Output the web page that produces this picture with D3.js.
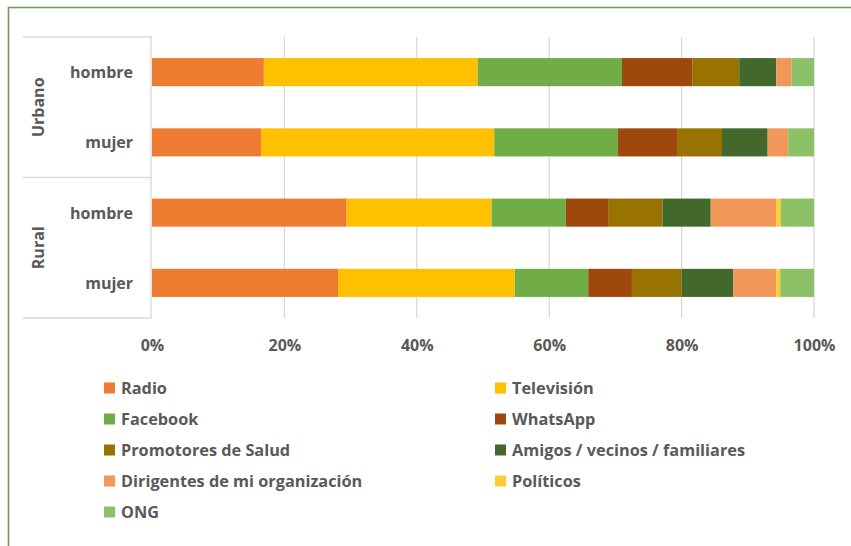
<!DOCTYPE html>
<html>
<head>
<meta charset="utf-8">
<script src="https://cdn.jsdelivr.net/npm/d3@7"></script>
<style>
  html, body { margin: 0; padding: 0; background: #fff; }
  svg { display: block; }
  text { font-family: "Open Sans", "Noto Sans", sans-serif; font-weight: bold; fill: #595959; }
</style>
</head>
<body>
<svg id="chart" width="851" height="546"></svg>
<script>
// Rows from top to bottom: area and sex
const rowArea = ["Urbano", "Urbano", "Rural", "Rural"];
const rowSex = ["hombre", "mujer", "hombre", "mujer"];
const rowKeys = ["Urbano-hombre", "Urbano-mujer", "Rural-hombre", "Rural-mujer"];

// Information sources (series), in stacking order
const seriesNames = ["Radio", "Televisión", "Facebook", "WhatsApp", "Promotores de Salud",
  "Amigos / vecinos / familiares", "Dirigentes de mi organización", "Políticos", "ONG"];
const seriesColors = ["#ED7D31", "#FFC000", "#70AD47", "#9E480E", "#997300",
  "#43682B", "#F1975A", "#FFCD33", "#8CC168"];

// Percent share per row (Urbano hombre, Urbano mujer, Rural hombre, Rural mujer)
const radio      = [16.9, 16.5, 29.4, 28.1];
const television = [32.3, 35.2, 21.9, 26.7];
const facebook   = [21.8, 18.7, 11.2, 11.1];
const whatsapp   = [10.6,  8.9,  6.5,  6.6];
const promotores = [ 7.1,  6.8,  8.1,  7.5];
const amigos     = [ 5.6,  6.9,  7.3,  7.8];
const dirigentes = [ 2.3,  3.1,  9.9,  6.5];
const politicos  = [ 0.0,  0.0,  0.7,  0.6];
const ong        = [ 3.4,  3.9,  5.0,  5.1];

const xTicks = [0, 0.2, 0.4, 0.6, 0.8, 1.0];

const seriesValues = [radio, television, facebook, whatsapp, promotores, amigos, dirigentes, politicos, ong];

// Build rows for d3.stack, normalised to shares of 1
const table = rowKeys.map((k, i) => {
  const row = { key: k };
  const total = d3.sum(seriesValues, s => s[i]);
  seriesNames.forEach((n, j) => { row[n] = seriesValues[j][i] / total; });
  return row;
});

const svg = d3.select("#chart");

// Frame
svg.append("rect")
  .attr("x", 8.5).attr("y", 7.5).attr("width", 900).attr("height", 600)
  .attr("fill", "none").attr("stroke", "#6E9B5E").attr("stroke-width", 1.6);

const plot = { left: 152, right: 814, top: 37, bottom: 318 };

const x = d3.scaleLinear().domain([0, 1]).range([plot.left, plot.right]);
const y = d3.scaleBand().domain(rowKeys).range([plot.top, plot.bottom])
  .paddingInner(0.6).paddingOuter(0.3);

// Vertical gridlines
svg.append("g")
  .selectAll("line")
  .data(xTicks.slice(1))
  .join("line")
  .attr("x1", d => x(d)).attr("x2", d => x(d))
  .attr("y1", plot.top).attr("y2", plot.bottom)
  .attr("stroke", "#D9D9D9").attr("stroke-width", 1.3);

// Category box on the left
const boxLeft = 23;
const catG = svg.append("g").attr("stroke", "#D9D9D9").attr("stroke-width", 1.3).attr("fill", "none");
const groupEdges = [plot.top, (y("Urbano-mujer") + y.bandwidth() + y("Rural-hombre")) / 2, plot.bottom];
catG.selectAll("line.h").data(groupEdges).join("line")
  .attr("x1", boxLeft).attr("x2", plot.left)
  .attr("y1", d => d).attr("y2", d => d);
catG.append("line")
  .attr("x1", plot.left - 1).attr("x2", plot.left - 1)
  .attr("y1", plot.top).attr("y2", plot.bottom);

// Stacked bars
const stack = d3.stack().keys(seriesNames);
const layers = stack(table);

svg.append("g")
  .selectAll("g")
  .data(layers)
  .join("g")
  .attr("fill", (d, i) => seriesColors[i])
  .selectAll("rect")
  .data(d => d)
  .join("rect")
  .attr("x", d => x(d[0]))
  .attr("y", d => y(d.data.key))
  .attr("width", d => Math.max(0, x(d[1]) - x(d[0])))
  .attr("height", y.bandwidth());

// Row labels
svg.append("g")
  .selectAll("text")
  .data(rowKeys)
  .join("text")
  .attr("x", 133)
  .attr("y", d => y(d) + y.bandwidth() / 2)
  .attr("text-anchor", "end")
  .attr("dominant-baseline", "central")
  .style("font-size", "16px")
  .text((d, i) => rowSex[i]);

// Group labels (rotated)
const groups = ["Urbano", "Rural"];
svg.append("g")
  .selectAll("text")
  .data(groups)
  .join("text")
  .attr("transform", (g, i) => {
    const cy = (groupEdges[i] + groupEdges[i + 1]) / 2;
    return `translate(38,${cy}) rotate(-90)`;
  })
  .attr("text-anchor", "middle")
  .attr("dominant-baseline", "central")
  .style("font-size", "16px")
  .text(d => d);

// X axis tick labels
const xAxis = d3.axisBottom(x).tickValues(xTicks).tickFormat(d3.format(".0%")).tickSize(0).tickPadding(0);
const ax = svg.append("g").attr("transform", `translate(0,${plot.bottom})`).call(xAxis);
ax.select(".domain").remove();
ax.selectAll("text")
  .attr("y", 27)
  .attr("dy", "0.35em")
  .style("font-size", "16px")
  .style("font-family", null)
  .attr("fill", "#595959");

// Legend, two columns
const legend = svg.append("g");
const colX = [104, 495];
const rowY = [388, 419, 450, 481, 512];
const items = legend.selectAll("g")
  .data(seriesNames)
  .join("g")
  .attr("transform", (d, i) => `translate(${colX[i % 2]},${rowY[Math.floor(i / 2)]})`);
items.append("rect")
  .attr("x", 0).attr("y", -5.5).attr("width", 11).attr("height", 11)
  .attr("fill", (d, i) => seriesColors[i]);
items.append("text")
  .attr("x", 17).attr("y", 0)
  .attr("dominant-baseline", "central")
  .style("font-size", "16.3px")
  .text(d => d);
</script>
</body>
</html>
